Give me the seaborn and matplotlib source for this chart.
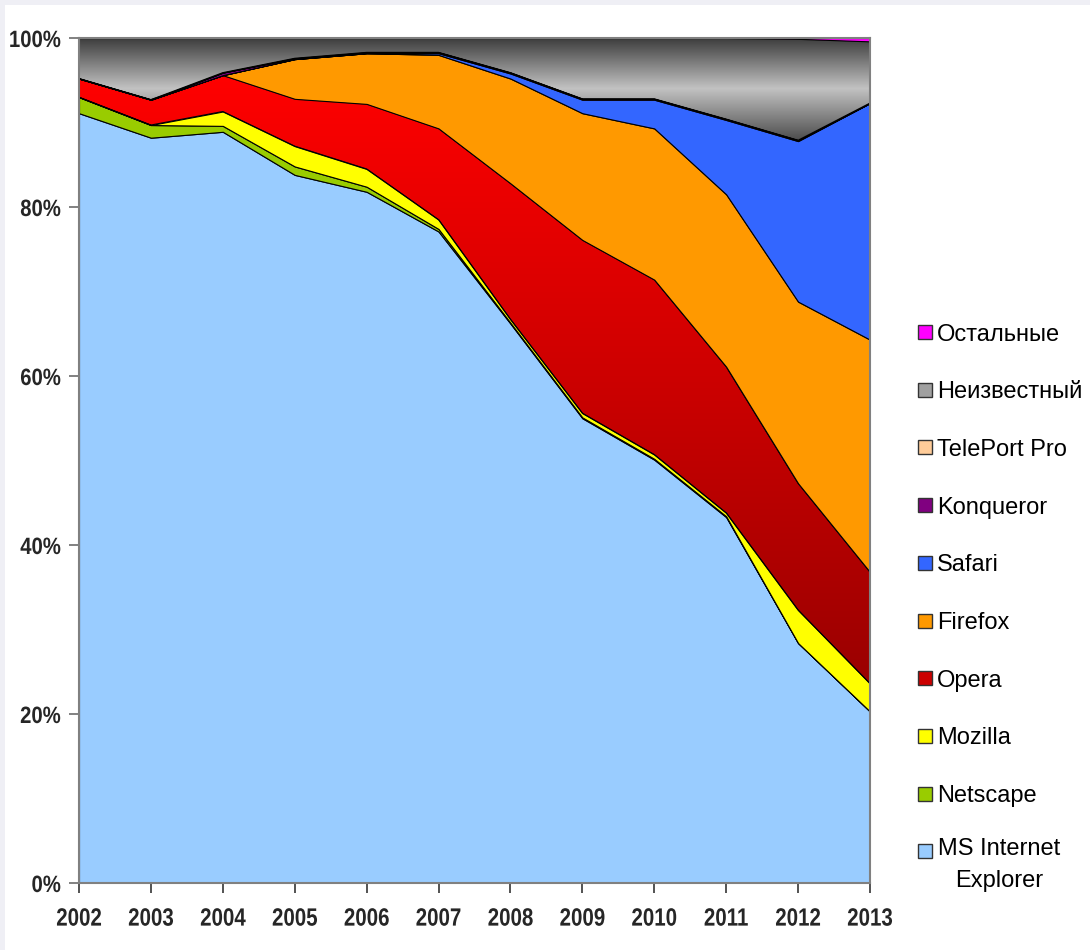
import numpy as np
import matplotlib
matplotlib.use("Agg")
import matplotlib.pyplot as plt
import seaborn as sns
from matplotlib.patches import Rectangle
from matplotlib.colors import LinearSegmentedColormap
from matplotlib.patheffects import AbstractPathEffect
from matplotlib.transforms import Affine2D

# ---------------- data (percent share) ----------------
years = [2002, 2003, 2004, 2005, 2006, 2007, 2008, 2009, 2010, 2011, 2012, 2013]
ie        = [91.1, 88.2, 88.9, 83.8, 81.8, 77.1, 66.2, 55.0, 50.1, 43.3, 28.4, 20.3]
netscape  = [1.9, 1.5, 0.7, 1.0, 0.6, 0.3, 0.1, 0.1, 0.1, 0.1, 0.0, 0.0]
mozilla   = [0.0, 0.0, 1.7, 2.4, 2.1, 1.1, 0.4, 0.5, 0.5, 0.4, 3.9, 3.3]
opera     = [2.2, 3.0, 4.3, 5.6, 7.7, 10.8, 16.1, 20.5, 20.7, 17.3, 15.0, 13.2]
firefox   = [0.0, 0.0, 0.0, 4.7, 6.0, 8.7, 12.4, 15.0, 17.9, 20.4, 21.5, 27.5]
safari    = [0.0, 0.0, 0.0, 0.0, 0.0, 0.2, 0.6, 1.6, 3.4, 8.8, 19.0, 28.0]
konqueror = [0.0, 0.0, 0.3, 0.1, 0.1, 0.1, 0.1, 0.1, 0.1, 0.1, 0.1, 0.0]
teleport  = [0.0, 0.0, 0.0, 0.0, 0.0, 0.0, 0.0, 0.0, 0.0, 0.0, 0.0, 0.0]
unknown   = [4.8, 7.3, 4.1, 2.4, 1.7, 1.7, 4.1, 7.2, 7.2, 9.6, 12.0, 7.3]
others    = [0.0, 0.0, 0.0, 0.0, 0.0, 0.0, 0.0, 0.0, 0.0, 0.0, 0.1, 0.4]

series_names = ["MS Internet\nExplorer", "Netscape", "Mozilla", "Opera", "Firefox",
                "Safari", "Konqueror", "TelePort Pro", "Неизвестный", "Остальные"]
series_vals = [ie, netscape, mozilla, opera, firefox, safari, konqueror, teleport, unknown, others]
series_colors = ["#99ccff", "#99cc00", "#ffff00", "#e00000", "#ff9900",
                 "#3366ff", "#800080", "#ffcc99", "#a0a0a0", "#ff00ff"]
legend_colors = ["#99ccff", "#99cc00", "#ffff00", "#cc0000", "#ff9900",
                 "#3366ff", "#800080", "#ffcc99", "#a0a0a0", "#ff00ff"]
y_ticks = [0, 20, 40, 60, 80, 100]
y_labels = ["0%", "20%", "40%", "60%", "80%", "100%"]


class Squeeze(AbstractPathEffect):
    """Horizontally condense text (narrow bold look)."""
    def __init__(self, sx=0.82, anchor="center"):
        super().__init__()
        self.sx = sx
        self.anchor = anchor

    def draw_path(self, renderer, gc, tpath, affine, rgbFace=None):
        ext = tpath.get_extents(affine)
        if self.anchor == "right":
            cx = ext.x1
        elif self.anchor == "left":
            cx = ext.x0
        else:
            cx = 0.5 * (ext.x0 + ext.x1)
        t = affine + Affine2D().translate(-cx, 0).scale(self.sx, 1).translate(cx, 0)
        renderer.draw_path(gc, tpath, t, rgbFace)


# ---------------- style ----------------
sns.set_theme(style="white")
plt.rcParams["font.family"] = ["Liberation Sans", "DejaVu Sans"]

fig = plt.figure(figsize=(10.9, 9.5), dpi=100)
fig.patch.set_facecolor("white")
fig.add_artist(Rectangle((0, 1 - 5 / 950), 1, 5 / 950, transform=fig.transFigure,
                         facecolor="#efeff5", edgecolor="none"))
fig.add_artist(Rectangle((0, 0), 5 / 1090, 1, transform=fig.transFigure,
                         facecolor="#efeff5", edgecolor="none"))

ax = fig.add_axes([79 / 1090, 1 - 883 / 950, 791 / 1090, 845 / 950])

polys = ax.stackplot(years, *series_vals, colors=series_colors,
                     edgecolor="black", linewidth=0.8, zorder=2)


def gradient_fill(poly, colors):
    path = poly.get_paths()[0]
    ys = path.vertices[:, 1]
    ymin, ymax = ys.min(), ys.max()
    cmap = LinearSegmentedColormap.from_list("g", colors)
    grad = np.linspace(0, 1, 256).reshape(-1, 1)
    im = ax.imshow(grad, cmap=cmap, extent=[years[0], years[-1], ymin, ymax],
                   aspect="auto", origin="upper", zorder=1.5, interpolation="bilinear")
    im.set_clip_path(path, transform=ax.transData)
    poly.set_facecolor("none")


gradient_fill(polys[3], ["#ff0000", "#9a0000"])
gradient_fill(polys[8], ["#3a3a3a", "#c2c2c2", "#4e4e4e"])

ax.set_xlim(years[0], years[-1])
ax.set_ylim(0, 100)

ax.set_xticks(years)
ax.set_xticklabels([str(y) for y in years], fontweight="bold", fontsize=18)
ax.set_yticks(y_ticks)
ax.set_yticklabels(y_labels, fontweight="bold", fontsize=17)
for lbl in ax.get_xticklabels():
    lbl.set_path_effects([Squeeze(0.82, "center")])
for lbl in ax.get_yticklabels():
    lbl.set_path_effects([Squeeze(0.86, "right")])
ax.tick_params(axis="x", bottom=True, direction="out", length=7, width=1.3,
               color="#444444", pad=10)
ax.tick_params(axis="y", left=True, direction="out", length=7, width=1.3,
               color="#777777", pad=6)
for s in ax.spines.values():
    s.set_visible(True)
    s.set_color("#808080")
    s.set_linewidth(1.5)
ax.grid(False)

# ---------------- legend (drawn in figure pixels, top entry first) ----------------
W, H = 1090.0, 950.0
first_y, step = 332.0, 57.7
for i, (name, col) in enumerate(zip(series_names[::-1], legend_colors[::-1])):
    yc = first_y + i * step
    fig.add_artist(Rectangle((918 / W, 1 - (yc + 7) / H), 14 / W, 14 / H,
                             transform=fig.transFigure, facecolor=col,
                             edgecolor="#333333", linewidth=1.0))
    if "\n" in name:
        fig.text(999 / W, 1 - (yc - 13) / H, name, ha="center", va="top",
                 fontsize=17, multialignment="center", linespacing=1.6,
                 color="black")
    else:
        fig.text(937 / W, 1 - yc / H, name, ha="left", va="center_baseline",
                 fontsize=17, color="black")

fig.savefig("out.png", dpi=100)
